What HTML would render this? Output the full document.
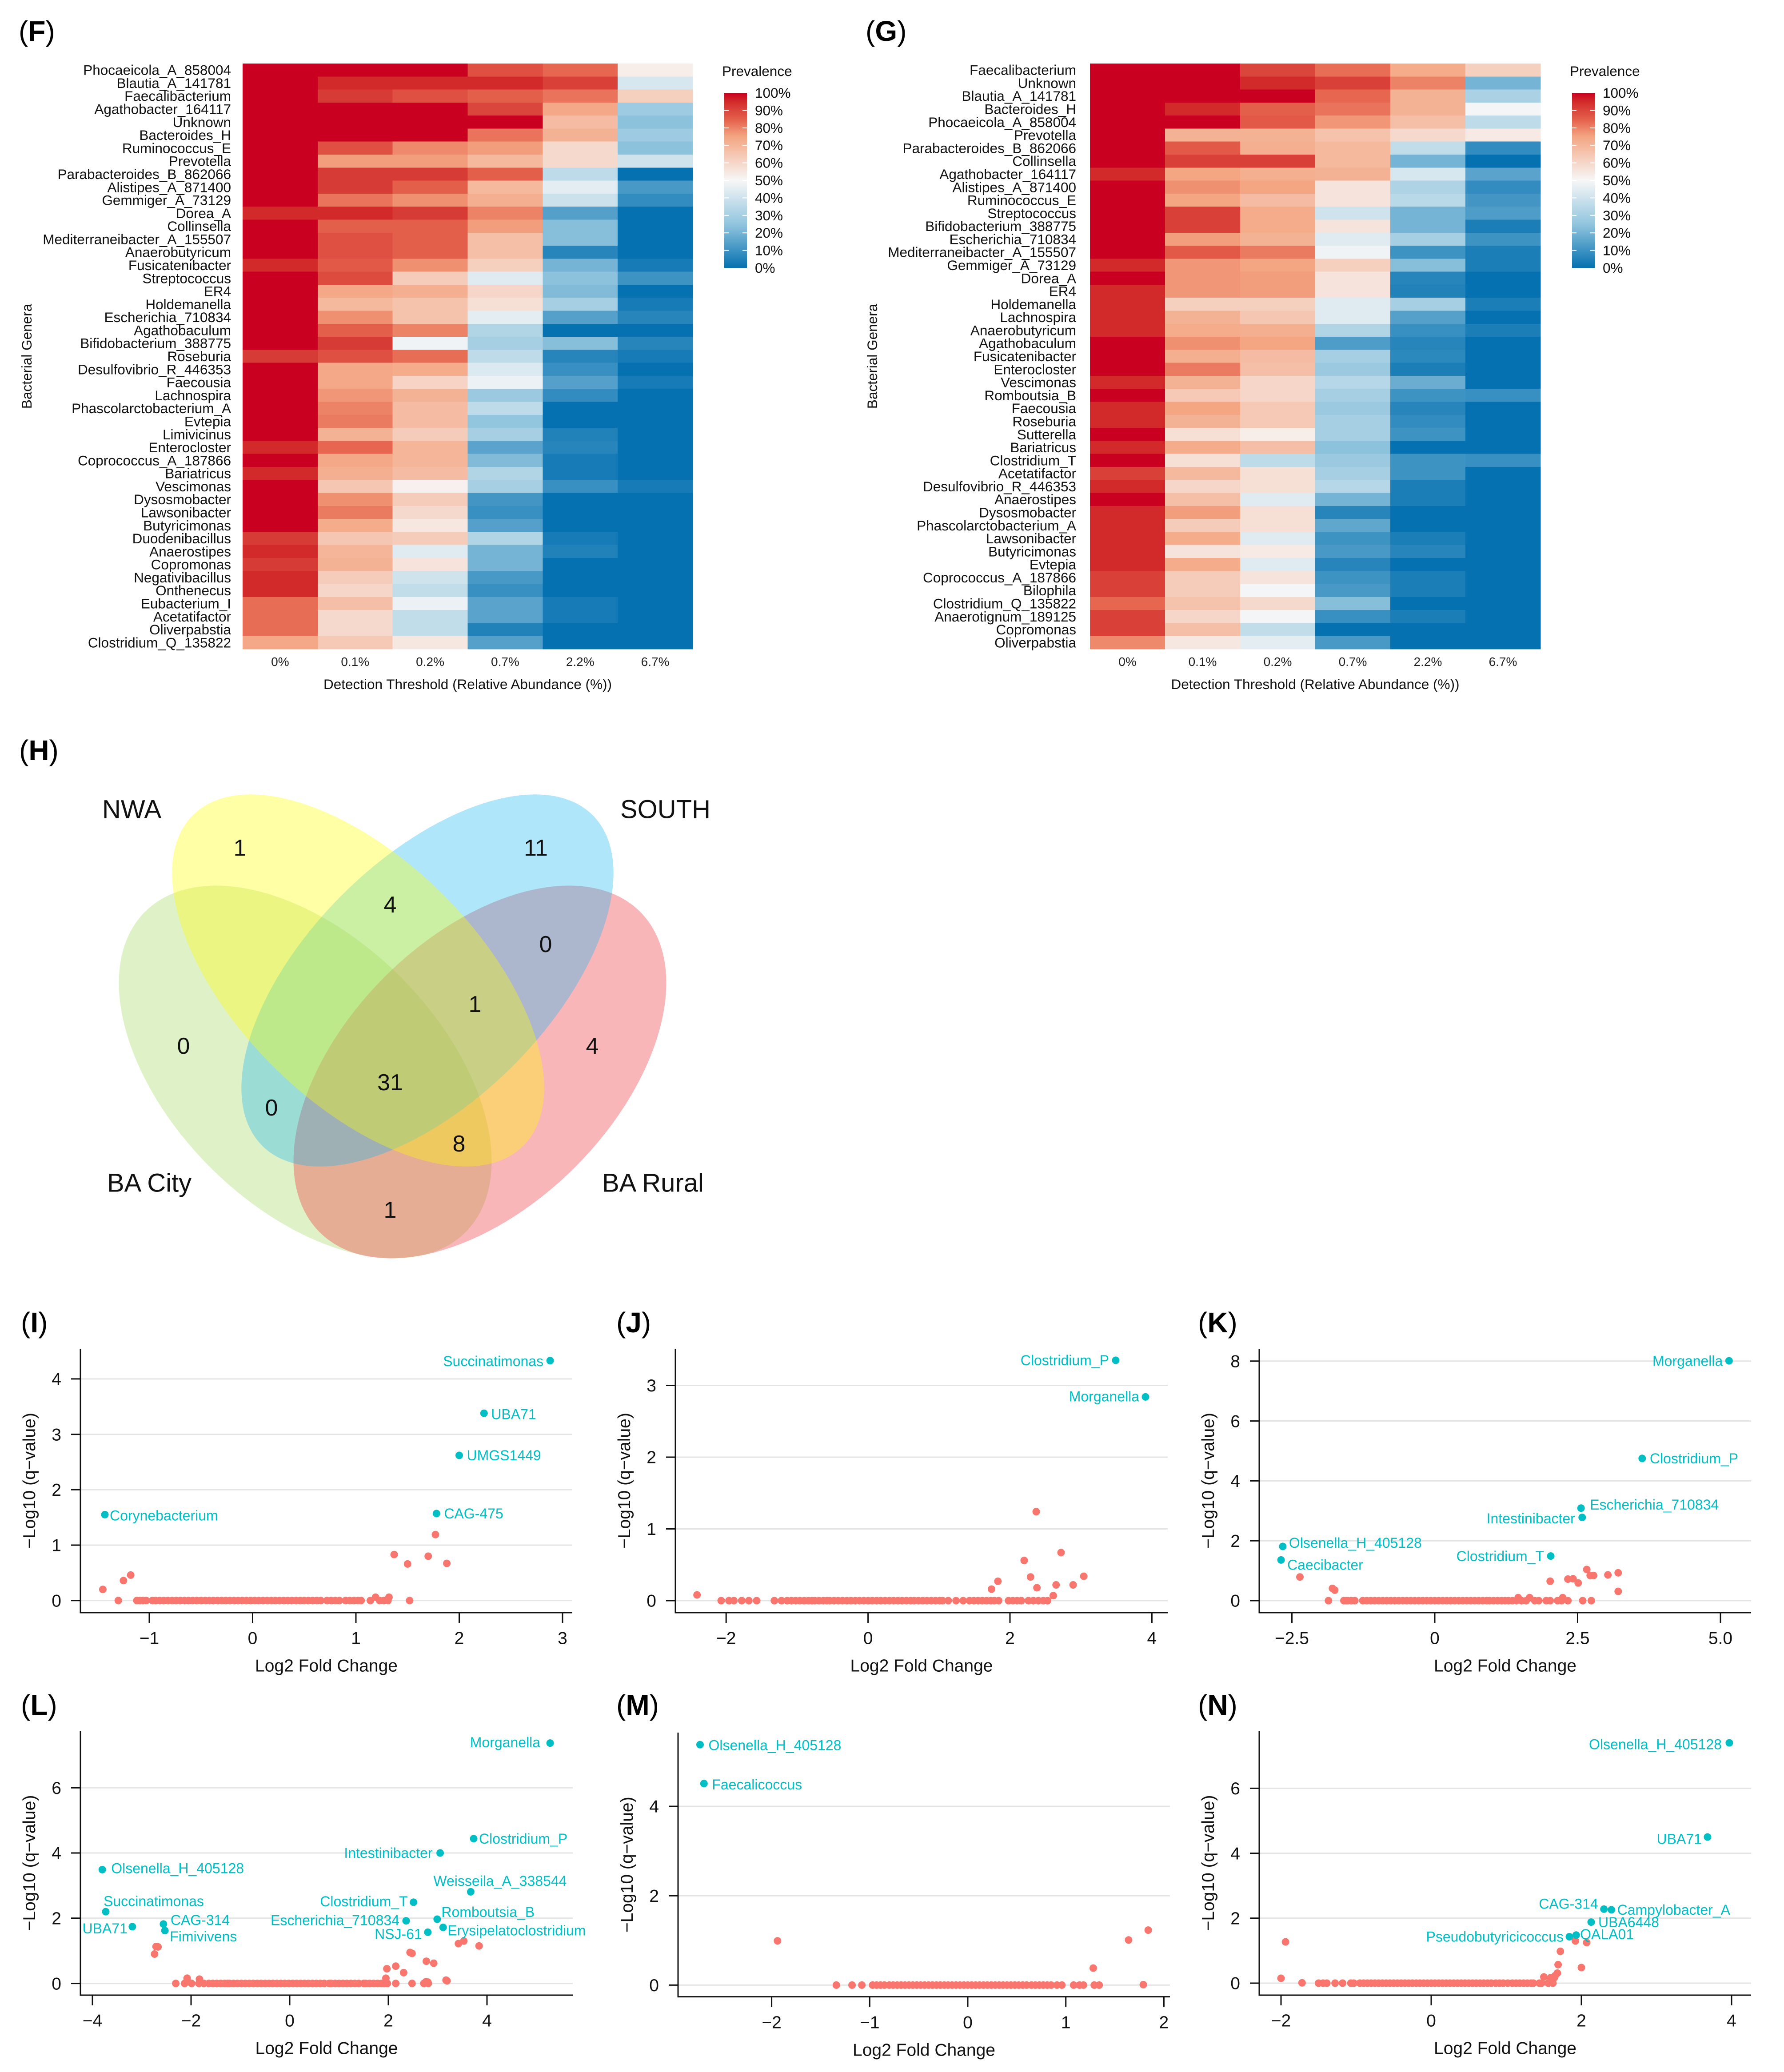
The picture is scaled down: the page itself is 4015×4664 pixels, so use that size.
<!DOCTYPE html>
<html lang="en">
<head>
<meta charset="utf-8">
<title>Prevalence heatmaps, Venn diagram and volcano plots</title>
<style>
html,body{margin:0;padding:0;background:#fff;}
svg{display:block;}
text{font-family:"Liberation Sans",sans-serif;}
</style>
</head>
<body>
<svg id="figure" xmlns="http://www.w3.org/2000/svg" width="4015" height="4664" viewBox="0 0 4015 4664">
<defs>
<linearGradient id="prevalence-gradient" x1="0" y1="1" x2="0" y2="0">
<stop offset="0" stop-color="#0571b0"/><stop offset="0.25" stop-color="#92c5de"/><stop offset="0.5" stop-color="#f7f7f7"/><stop offset="0.75" stop-color="#f4a582"/><stop offset="0.85" stop-color="rgb(228,95,74)"/><stop offset="0.9" stop-color="rgb(219,70,60)"/><stop offset="0.95" stop-color="rgb(210,42,42)"/><stop offset="1" stop-color="#ca0020"/>
</linearGradient>
</defs>
<rect width="4015" height="4664" fill="#fff"/>
</svg>
<script>
/* ---------- heatmap data ---------- */
const thresholds = ["0%","0.1%","0.2%","0.7%","2.2%","6.7%"];
const legendTicks = [100,90,80,70,60,50,40,30,20,10,0];
const fGenera = ["Phocaeicola_A_858004","Blautia_A_141781","Faecalibacterium","Agathobacter_164117","Unknown","Bacteroides_H","Ruminococcus_E","Prevotella","Parabacteroides_B_862066","Alistipes_A_871400","Gemmiger_A_73129","Dorea_A","Collinsella","Mediterraneibacter_A_155507","Anaerobutyricum","Fusicatenibacter","Streptococcus","ER4","Holdemanella","Escherichia_710834","Agathobaculum","Bifidobacterium_388775","Roseburia","Desulfovibrio_R_446353","Faecousia","Lachnospira","Phascolarctobacterium_A","Evtepia","Limivicinus","Enterocloster","Coprococcus_A_187866","Bariatricus","Vescimonas","Dysosmobacter","Lawsonibacter","Butyricimonas","Duodenibacillus","Anaerostipes","Copromonas","Negativibacillus","Onthenecus","Eubacterium_I","Acetatifactor","Oliverpabstia","Clostridium_Q_135822"];
const fPrevalence = [
[100,100,100,88,84,53],[100,95,95,95,91,42],[100,92,88,85,82,62],[100,100,100,90,74,28],[100,100,100,100,68,24],
[100,100,100,82,71,28],[100,88,79,76,59,24],[100,76,76,69,59,40],[100,92,92,85,36,0],[100,92,85,69,45,12],
[100,82,78,72,39,8],[95,95,92,80,14,0],[100,85,85,76,23,0],[100,88,85,67,23,0],[100,88,85,67,6,0],
[95,86,78,62,20,3],[100,89,63,44,24,10],[100,74,72,60,22,0],[100,69,66,57,30,3],[100,78,66,45,14,6],
[100,85,80,33,0,0],[100,92,48,30,23,6],[92,88,83,36,6,3],[100,74,73,43,9,0],[100,74,61,47,14,3],
[100,77,71,27,8,0],[100,80,68,36,0,0],[100,81,68,25,0,0],[100,71,63,30,5,0],[95,84,70,15,6,0],
[100,74,70,22,3,0],[95,72,68,33,3,0],[100,65,52,30,9,3],[100,78,63,11,0,0],[100,81,59,9,0,0],
[100,73,55,14,0,0],[92,65,63,33,3,0],[95,70,44,20,5,0],[92,71,56,20,0,0],[95,63,40,12,0,0],
[95,60,37,9,0,0],[83,67,47,15,3,0],[83,59,37,15,3,0],[83,59,37,5,0,0],[74,64,55,14,0,0]];
const gGenera = ["Faecalibacterium","Unknown","Blautia_A_141781","Bacteroides_H","Phocaeicola_A_858004","Prevotella","Parabacteroides_B_862066","Collinsella","Agathobacter_164117","Alistipes_A_871400","Ruminococcus_E","Streptococcus","Bifidobacterium_388775","Escherichia_710834","Mediterraneibacter_A_155507","Gemmiger_A_73129","Dorea_A","ER4","Holdemanella","Lachnospira","Anaerobutyricum","Agathobaculum","Fusicatenibacter","Enterocloster","Vescimonas","Romboutsia_B","Faecousia","Roseburia","Sutterella","Bariatricus","Clostridium_T","Acetatifactor","Desulfovibrio_R_446353","Anaerostipes","Dysosmobacter","Phascolarctobacterium_A","Lawsonibacter","Butyricimonas","Evtepia","Coprococcus_A_187866","Bilophila","Clostridium_Q_135822","Anaerotignum_189125","Copromonas","Oliverpabstia"];
const gPrevalence = [
[100,100,90,83,73,62],[100,100,95,91,80,20],[100,100,100,84,71,31],[100,95,85,82,71,49],[100,100,86,77,67,36],
[100,71,71,66,59,54],[100,86,72,69,37,8],[100,91,91,69,20,0],[95,75,72,71,42,15],[100,78,75,56,32,8],
[100,75,68,56,35,11],[100,91,73,40,20,13],[100,91,73,56,20,4],[100,76,71,44,30,10],[100,86,81,48,10,4],
[95,77,75,62,23,4],[100,77,76,56,6,0],[95,77,76,56,5,0],[95,62,62,44,30,4],[95,71,65,44,14,0],
[95,73,72,33,9,4],[100,78,75,13,6,0],[100,72,68,30,7,0],[100,81,67,27,4,0],[95,71,60,34,18,0],
[100,64,60,30,10,9],[95,75,64,27,6,0],[95,71,64,30,8,0],[100,57,53,30,10,0],[95,73,67,24,0,0],
[100,57,36,27,10,9],[91,69,57,30,10,0],[95,60,57,34,4,0],[100,67,44,20,4,0],[95,76,57,6,0,0],
[95,63,57,16,0,0],[95,73,44,10,4,0],[95,56,54,12,6,0],[95,73,44,6,0,0],[91,63,56,10,4,0],
[91,63,49,12,4,0],[84,66,59,23,0,0],[91,60,49,9,4,0],[91,67,37,0,0,0],[79,55,45,12,0,0]];

/* ---------- venn data ---------- */
const vennSets = ["NWA","SOUTH","BA City","BA Rural"];
const vennCounts = [1,11,4,0,1,0,4,31,0,8,1];

/* ---------- volcano data ---------- */
const iXTicks=[-1,0,1,2,3], iXLabels=["−1","0","1","2","3"], iYTicks=[0,1,2,3,4];
const iZeroX=[-1.30,-1.12,-1.09,-1.06,-1.03,-0.97,-0.94,-0.90,-0.86,-0.82,-0.78,-0.74,-0.70,-0.66,-0.62,-0.58,-0.54,-0.50,-0.46,-0.42,-0.38,-0.34,-0.30,-0.26,-0.22,-0.18,-0.14,-0.10,-0.06,-0.02,0.02,0.06,0.10,0.14,0.18,0.22,0.26,0.30,0.34,0.38,0.42,0.46,0.50,0.54,0.58,0.62,0.66,0.72,0.76,0.80,0.84,0.90,0.94,0.98,1.02,1.05,1.14,1.23,1.27,1.31,1.52];
const iRedX=[-1.45,-1.25,-1.18,1.19,1.32,1.37,1.50,1.70,1.77,1.88];
const iRedY=[0.20,0.36,0.46,0.06,0.06,0.83,0.66,0.80,1.19,0.67];
const iHitNames=["Succinatimonas","UBA71","UMGS1449","CAG-475","Corynebacterium"];
const iHitX=[2.88,2.24,2.00,1.78,-1.43];
const iHitY=[4.33,3.38,2.62,1.57,1.55];

const jXTicks=[-2,0,2,4], jXLabels=["−2","0","2","4"], jYTicks=[0,1,2,3];
const jZeroX=[-2.07,-1.96,-1.89,-1.78,-1.68,-1.57,-1.32,-1.22,-1.14,-1.08,-1.02,-0.96,-0.90,-0.84,-0.79,-0.75,-0.69,-0.63,-0.58,-0.54,-0.48,-0.42,-0.36,-0.30,-0.24,-0.18,-0.12,-0.06,0,0.06,0.12,0.18,0.24,0.30,0.36,0.42,0.48,0.54,0.60,0.65,0.71,0.77,0.83,0.89,0.95,1.01,1.05,1.13,1.24,1.34,1.43,1.49,1.55,1.61,1.67,1.73,1.78,1.84,1.98,2.04,2.10,2.16,2.26,2.33,2.40,2.47,2.53];
const jRedX=[-2.41,1.74,1.83,2.20,2.29,2.37,2.38,2.61,2.65,2.72,2.89,3.04];
const jRedY=[0.08,0.16,0.27,0.56,0.33,1.24,0.18,0.07,0.22,0.67,0.22,0.34];
const jHitNames=["Clostridium_P","Morganella"];
const jHitX=[3.49,3.91];
const jHitY=[3.35,2.84];

const kXTicks=[-2.5,0,2.5,5], kXLabels=["−2.5","0","2.5","5.0"], kYTicks=[0,2,4,6,8];
const kZeroX=[-1.86,-1.59,-1.55,-1.52,-1.46,-1.40,-1.26,-1.19,-1.12,-1.05,-0.98,-0.91,-0.84,-0.77,-0.70,-0.63,-0.56,-0.49,-0.42,-0.35,-0.28,-0.21,-0.14,-0.07,0,0.07,0.14,0.21,0.28,0.35,0.42,0.49,0.56,0.63,0.70,0.77,0.84,0.91,0.96,1.03,1.10,1.17,1.23,1.29,1.36,1.43,1.52,1.60,1.75,1.82,1.95,2.02,2.15,2.22,2.33,2.59,2.74];
const kRedX=[-2.36,-1.79,-1.75,1.46,1.66,2.24,2.02,2.33,2.42,2.51,2.66,2.72,2.78,3.03,3.21,3.21];
const kRedY=[0.79,0.41,0.35,0.10,0.10,0.10,0.65,0.72,0.73,0.59,1.04,0.84,0.84,0.86,0.93,0.31];
const kHitNames=["Morganella","Clostridium_P","Escherichia_710834","Intestinibacter","Clostridium_T","Olsenella_H_405128","Caecibacter"];
const kHitX=[5.15,3.63,2.56,2.58,2.03,-2.66,-2.69];
const kHitY=[8.01,4.75,3.09,2.78,1.49,1.81,1.36];

const lXTicks=[-4,-2,0,2,4], lXLabels=["−4","−2","0","2","4"], lYTicks=[0,2,4,6];
const lZeroX=[-2.31,-2.13,-1.99,-1.84,-1.74,-1.64,-1.56,-1.48,-1.40,-1.32,-1.26,-1.22,-1.14,-1.06,-0.98,-0.90,-0.82,-0.74,-0.66,-0.58,-0.50,-0.42,-0.34,-0.26,-0.18,-0.10,-0.02,0.06,0.14,0.22,0.30,0.38,0.46,0.54,0.62,0.70,0.80,0.84,0.92,1.00,1.08,1.16,1.24,1.32,1.40,1.50,1.54,1.62,1.70,1.78,1.86,1.92,1.98,2.15,2.48,2.72,2.81];
const lRedX=[-2.74,-2.71,-2.67,1.97,2.15,2.31,2.44,2.48,2.77,2.92,3.42,3.53,3.84,3.17,3.19,-2.08,-2.08,-1.83,1.95,2.76,2.80];
const lRedY=[0.90,1.13,1.12,0.45,0.53,0.33,0.95,0.92,0.68,0.62,1.22,1.30,1.15,0.10,0.08,0.16,0.09,0.13,0.16,0.05,0.04];
const lHitNames=["Morganella","Clostridium_P","Intestinibacter","Olsenella_H_405128","Weisseila_A_338544","Clostridium_T","Succinatimonas","Romboutsia_B","Escherichia_710834","UBA71","CAG-314","Fimivivens","NSJ-61","Erysipelatoclostridium"];
const lHitX=[5.28,3.73,3.05,-3.80,3.67,2.51,-3.73,2.99,2.36,-3.19,-2.56,-2.53,2.80,3.11];
const lHitY=[7.37,4.44,4.00,3.49,2.81,2.49,2.20,1.97,1.92,1.74,1.82,1.62,1.57,1.72];

const mXTicks=[-2,-1,0,1,2], mXLabels=["−2","−1","0","1","2"], mYTicks=[0,2,4];
const mZeroX=[-1.34,-1.18,-1.08,-0.97,-0.93,-0.89,-0.85,-0.80,-0.76,-0.72,-0.68,-0.64,-0.60,-0.56,-0.52,-0.48,-0.44,-0.40,-0.36,-0.32,-0.28,-0.24,-0.20,-0.16,-0.12,-0.08,-0.04,0,0.04,0.08,0.12,0.16,0.20,0.24,0.28,0.32,0.36,0.40,0.44,0.48,0.52,0.56,0.60,0.65,0.69,0.73,0.77,0.81,0.85,0.91,0.96,1.08,1.14,1.18,1.29,1.34];
const mRedX=[-1.94,1.28,1.64,1.84,1.79];
const mRedY=[0.99,0.38,1.01,1.23,0.01];
const mHitNames=["Olsenella_H_405128","Faecalicoccus"];
const mHitX=[-2.73,-2.69];
const mHitY=[5.38,4.51];

const nXTicks=[-2,0,2,4], nXLabels=["−2","0","2","4"], nYTicks=[0,2,4,6];
const nZeroX=[-1.50,-1.44,-1.39,-1.28,-1.18,-1.07,-1.03,-0.95,-0.90,-0.85,-0.80,-0.75,-0.70,-0.65,-0.60,-0.55,-0.50,-0.45,-0.40,-0.35,-0.30,-0.25,-0.20,-0.15,-0.10,-0.05,0,0.05,0.10,0.15,0.20,0.25,0.30,0.35,0.40,0.45,0.50,0.55,0.60,0.65,0.70,0.75,0.80,0.86,0.91,0.96,1.02,1.08,1.13,1.18,1.23,1.28,1.33,1.36,1.44,1.47,1.56,1.62];
const nRedX=[-1.94,-2.00,-1.72,1.72,1.69,1.92,2.07,2.00,1.68,1.50,1.59,1.64,1.65];
const nRedY=[1.27,0.15,0.01,0.98,0.57,1.30,1.25,0.48,0.31,0.19,0.17,0.17,0.23];
const nHitNames=["Olsenella_H_405128","UBA71","Campylobacter_A","CAG-314","UBA6448","QALA01","Pseudobutyricicoccus"];
const nHitX=[3.97,3.68,2.40,2.30,2.13,1.93,1.84];
const nHitY=[7.40,4.50,2.26,2.28,1.88,1.48,1.43];

/* ---------- drawing helpers ---------- */
const SVGNS = "http://www.w3.org/2000/svg";
const root = document.getElementById("figure");
function make(tag, attrs, parent) {
  const node = document.createElementNS(SVGNS, tag);
  for (const k in attrs) node.setAttribute(k, attrs[k]);
  (parent || root).appendChild(node);
  return node;
}
function write(txt, x, cy, size, anchor, fill, parent) {
  const node = make("text", {x: x, y: cy + size * 0.35, "font-size": size, "text-anchor": anchor || "start", fill: fill || "#111"}, parent);
  node.textContent = txt;
  return node;
}
function panelLetter(letter, x, baseline) {
  const node = make("text", {x: x, y: baseline, "font-size": 64, fill: "#000"});
  
  
  make("tspan", {}, node).textContent = "(";
  make("tspan", {"font-weight": "bold"}, node).textContent = letter;
  make("tspan", {}, node).textContent = ")";
}
const colorStops = [[0,[5,113,176]],[25,[146,197,222]],[50,[247,247,247]],[75,[244,165,130]],[85,[228,95,74]],[90,[219,70,60]],[95,[210,42,42]],[100,[202,0,32]]];
function heatColor(v) {
  for (let i = 1; i < colorStops.length; i++) {
    if (v <= colorStops[i][0]) {
      const a = colorStops[i-1], b = colorStops[i], t = (v - a[0]) / (b[0] - a[0]);
      return "rgb(" + a[1].map((c, j) => Math.round(c + (b[1][j] - c) * t)).join(",") + ")";
    }
  }
  return "rgb(202,0,32)";
}

/* ---------- heatmaps ---------- */
function drawHeatmap(id, frame, genera, prevalence) {
  const g = make("g", {});
  
  
  const colW = (frame.right - frame.left) / thresholds.length;
  const rowH = (frame.bottom - frame.top) / genera.length;
  const colX = c => frame.left + c * colW;
  const rowY = r => frame.top + r * rowH;
  genera.forEach((name, r) => {
    const lab = write(name, frame.labelRight, rowY(r) + rowH / 2, 31.5, "end", "#111", g);
    
    
    prevalence[r].forEach((v, c) => {
      const cell = make("rect", {x: colX(c), y: rowY(r), width: colW + 0.5, height: rowH + 0.5, fill: heatColor(v), "shape-rendering": "crispEdges"}, g);
      
      
    });
  });
  thresholds.forEach((t, c) => {
    const lab = write(t, colX(c) + colW / 2, frame.bottom + 28, 28, "middle", "#222", g);
    
    
  });
  const xt = write("Detection Threshold (Relative Abundance (%))", (frame.left + frame.right) / 2, frame.bottom + 79, 31.5, "middle", "#111", g);
  
  
  const ytx = frame.titleX, yty = 802;
  const yt = make("text", {x: 0, y: 0, "font-size": 31.5, "text-anchor": "middle", fill: "#111", transform: "translate(" + (ytx + 11) + "," + yty + ") rotate(-90)"}, g);
  yt.textContent = "Bacterial Genera";
  
  

  const lt = write("Prevalence", frame.legendX - 5, 160, 31.5, "start", "#111", g);
  
  
  const barTop = 209, barBottom = 603, barW = 51;
  const bar = make("rect", {x: frame.legendX, y: barTop, width: barW, height: barBottom - barTop, fill: "url(#prevalence-gradient)"}, g);
  
  
  const barY = v => barBottom - (v / 100) * (barBottom - barTop);
  legendTicks.forEach(v => {
    if (v > 0 && v < 100) {
      const t1 = make("line", {x1: frame.legendX, x2: frame.legendX + 10, y1: barY(v), y2: barY(v), stroke: "#fff", "stroke-width": 2}, g);
      
      
      const t2 = make("line", {x1: frame.legendX + barW - 10, x2: frame.legendX + barW, y1: barY(v), y2: barY(v), stroke: "#fff", "stroke-width": 2}, g);
      
      
    }
    const lab = write(v + "%", frame.legendX + 69, barY(v), 31.5, "start", "#111", g);
    
    
  });
}
drawHeatmap("f", {left:546,right:1559,top:143,bottom:1461,labelRight:520,titleX:60,legendX:1630}, fGenera, fPrevalence);
drawHeatmap("g", {left:2453,right:3467,top:143,bottom:1461,labelRight:2422,titleX:1963,legendX:3538}, gGenera, gPrevalence);
panelLetter("F", 42, 92);
panelLetter("G", 1948, 92);

/* ---------- venn ---------- */
panelLetter("H", 43, 1711);
const vennEllipses = [
  {name:"ba-city",cx:687,cy:2413,rx:510,ry:303,rot:45,fill:"rgb(163,215,91)"},
  {name:"ba-rural",cx:1080,cy:2413,rx:510,ry:303,rot:-45,fill:"rgb(237,46,54)"},
  {name:"south",cx:962,cy:2207,rx:526,ry:272,rot:-45,fill:"rgb(29,183,240)"},
  {name:"nwa",cx:806,cy:2207,rx:526,ry:272,rot:45,fill:"rgb(255,255,0)"}
];
vennEllipses.forEach(e => {
  const el = make("ellipse", {cx:e.cx, cy:e.cy, rx:e.rx, ry:e.ry, fill:e.fill, "fill-opacity":0.35, transform:"rotate(" + e.rot + " " + e.cx + " " + e.cy + ")"});
  
  
});
const vennSetSpots = [[230,1821],[1396,1821],[241,2662],[1355,2662]];
vennSets.forEach((s, i) => {
  const el = write(s, vennSetSpots[i][0], vennSetSpots[i][1], 58, "start", "#111");
  
  
});
const vennCountSpots = [[540,1908],[1206,1908],[878,2036],[1228,2125],[1069,2260],[413,2354],[1333,2354],[878,2436],[611,2493],[1033,2574],[878,2723]];
vennCounts.forEach((c, i) => {
  const el = write(String(c), vennCountSpots[i][0], vennCountSpots[i][1], 52, "middle", "#111");
  
  
});

/* ---------- volcano plots ---------- */
function drawVolcano(id, frame, series) {
  const g = make("g", {});
  
  
  const sx = v => frame.xZero + v * frame.xUnit;
  const sy = v => frame.yZero - v * frame.yUnit;
  series.yTicks.forEach(v => {
    const grid = make("line", {x1: frame.left, x2: frame.right, y1: sy(v), y2: sy(v), stroke: "#e4e4e4", "stroke-width": 3}, g);
    
    
    const tick = make("line", {x1: frame.left - 21, x2: frame.left, y1: sy(v), y2: sy(v), stroke: "#111", "stroke-width": 3}, g);
    
    
    const lab = write(String(v), frame.left - 43, sy(v), 39, "end", "#111", g);
    
    
  });
  const yAxis = make("line", {x1: frame.left, x2: frame.left, y1: frame.top, y2: frame.bottom + 1.5, stroke: "#111", "stroke-width": 3}, g);
  
  
  const xAxis = make("line", {x1: frame.left, x2: frame.right, y1: frame.bottom, y2: frame.bottom, stroke: "#111", "stroke-width": 3}, g);
  
  
  series.xTicks.forEach((v, i) => {
    const tick = make("line", {x1: sx(v), x2: sx(v), y1: frame.bottom, y2: frame.bottom + 23, stroke: "#111", "stroke-width": 3}, g);
    
    
    const lab = write(series.xLabels[i], sx(v), frame.bottom + 57, 39, "middle", "#111", g);
    
    
  });
  const xt = write("Log2 Fold Change", (frame.left + frame.right) / 2, frame.bottom + 119, 39, "middle", "#111", g);
  
  
  const yt = make("text", {x: 0, y: 0, "font-size": 39, "text-anchor": "middle", fill: "#111", transform: "translate(" + (frame.left - 102) + "," + ((frame.top + frame.bottom) / 2) + ") rotate(-90)"}, g);
  yt.textContent = "−Log10 (q−value)";
  
  

  series.zeroX.forEach(x => {
    const dot = make("circle", {cx: sx(x), cy: sy(0), r: 8.5, fill: "#F8766D"}, g);
    
    
  });
  series.redX.forEach((x, i) => {
    const dot = make("circle", {cx: sx(x), cy: sy(series.redY[i]), r: 8.5, fill: "#F8766D"}, g);
    
    
  });
  series.hitNames.forEach((name, i) => {
    const dot = make("circle", {cx: sx(series.hitX[i]), cy: sy(series.hitY[i]), r: 8.5, fill: "#00BFC4"}, g);
    
    
    const off = frame.offsets[name];
    const lab = write(name, sx(series.hitX[i]) + off[0], sy(series.hitY[i]) + off[1], 32, off[2], "#00BFC4", g);
    
    
  });
}
panelLetter("I", 47, 2999);
drawVolcano("i", {left:181,right:1288,top:3036,bottom:3630,xZero:568.5,xUnit:232.5,yZero:3602.7,yUnit:124.7,offsets:{
  "Succinatimonas":[-15,1,"end"],"UBA71":[16,2,"start"],"UMGS1449":[17,0,"start"],"CAG-475":[17,0,"start"],"Corynebacterium":[11,2,"start"]}},
  {xTicks:iXTicks,xLabels:iXLabels,yTicks:iYTicks,zeroX:iZeroX,redX:iRedX,redY:iRedY,hitNames:iHitNames,hitX:iHitX,hitY:iHitY});
panelLetter("J", 1387, 2999);
drawVolcano("j", {left:1520,right:2628,top:3036,bottom:3630,xZero:1953.6,xUnit:159.7,yZero:3603,yUnit:161.5,offsets:{
  "Clostridium_P":[-15,0,"end"],"Morganella":[-14,-1,"end"]}},
  {xTicks:jXTicks,xLabels:jXLabels,yTicks:jYTicks,zeroX:jZeroX,redX:jRedX,redY:jRedY,hitNames:jHitNames,hitX:jHitX,hitY:jHitY});
panelLetter("K", 2696, 2999);
drawVolcano("k", {left:2834,right:3941,top:3036,bottom:3630,xZero:3229,xUnit:128.6,yZero:3603,yUnit:67.4,offsets:{
  "Morganella":[-14,0,"end"],"Clostridium_P":[17,0,"start"],"Escherichia_710834":[20,-8,"start"],"Intestinibacter":[-16,2,"end"],"Clostridium_T":[-15,0,"end"],"Olsenella_H_405128":[14,-8,"start"],"Caecibacter":[14,11,"start"]}},
  {xTicks:kXTicks,xLabels:kXLabels,yTicks:kYTicks,zeroX:kZeroX,redX:kRedX,redY:kRedY,hitNames:kHitNames,hitX:kHitX,hitY:kHitY});
panelLetter("L", 47, 3860);
drawVolcano("l", {left:181,right:1289,top:3896,bottom:4491,xZero:652,xUnit:111,yZero:4464.6,yUnit:73.4,offsets:{
  "Morganella":[-22,-2,"end"],"Clostridium_P":[12,0,"start"],"Intestinibacter":[-17,0,"end"],"Olsenella_H_405128":[20,-3,"start"],"Weisseila_A_338544":[-84,-24.5,"start"],"Clostridium_T":[-13,-2,"end"],"Succinatimonas":[-5,-24,"start"],"Romboutsia_B":[9.5,-16,"start"],"Escherichia_710834":[-15,-1.6,"end"],"UBA71":[-11,4,"end"],"CAG-314":[16,-9,"start"],"Fimivivens":[11,13,"start"],"NSJ-61":[-13,4,"end"],"Erysipelatoclostridium":[10,7,"start"]}},
  {xTicks:lXTicks,xLabels:lXLabels,yTicks:lYTicks,zeroX:lZeroX,redX:lRedX,redY:lRedY,hitNames:lHitNames,hitX:lHitX,hitY:lHitY});
panelLetter("M", 1387, 3860);
drawVolcano("m", {left:1526,right:2633,top:3900,bottom:4494.6,xZero:2178,xUnit:220.7,yZero:4468.4,yUnit:100.6,offsets:{
  "Olsenella_H_405128":[19,1,"start"],"Faecalicoccus":[18,2,"start"]}},
  {xTicks:mXTicks,xLabels:mXLabels,yTicks:mYTicks,zeroX:mZeroX,redX:mRedX,redY:mRedY,hitNames:mHitNames,hitX:mHitX,hitY:mHitY});
panelLetter("N", 2696, 3860);
drawVolcano("n", {left:2834,right:3941,top:3896,bottom:4491,xZero:3221,xUnit:169,yZero:4464,yUnit:73.1,offsets:{
  "Olsenella_H_405128":[-17,3,"end"],"UBA71":[-13,4,"end"],"Campylobacter_A":[13,0,"start"],"CAG-314":[-13,-12,"end"],"UBA6448":[16,0,"start"],"QALA01":[9,-2,"start"],"Pseudobutyricicoccus":[-13,0,"end"]}},
  {xTicks:nXTicks,xLabels:nXLabels,yTicks:nYTicks,zeroX:nZeroX,redX:nRedX,redY:nRedY,hitNames:nHitNames,hitX:nHitX,hitY:nHitY});
</script>
</body>
</html>
